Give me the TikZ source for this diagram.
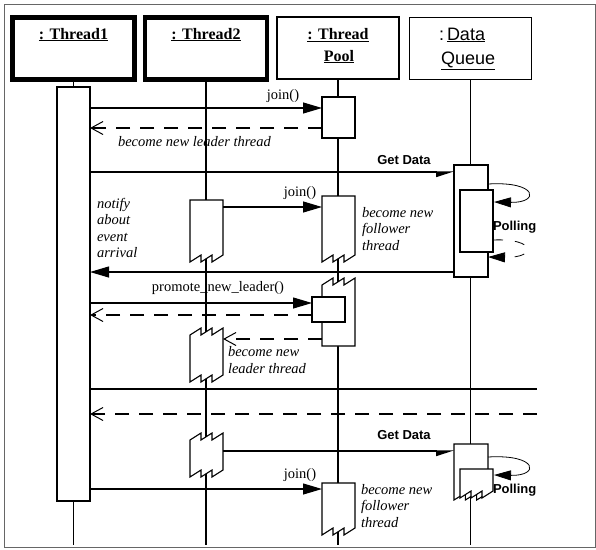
\documentclass[tikz,border=0pt]{standalone}
\usepackage{fontspec}
\setmainfont{Liberation Serif}
\setsansfont{Liberation Sans}
\usetikzlibrary{arrows.meta}
\begin{document}
\begin{tikzpicture}[x=1pt,y=-1pt,
  line width=1.1pt,
  every node/.style={inner sep=0pt, outer sep=0pt},
  hbox/.style={draw, minimum width=122pt, minimum height=62pt},
  hthick/.style={hbox, line width=4.5pt},
  life/.style={line width=1.1pt},
  act/.style={draw, fill=white, line width=1.1pt},
  call/.style={-{Triangle[length=19pt,width=11pt]}},
  half/.style={-{Triangle[length=16pt,width=10pt,harpoon,swap]}},
  reply/.style={dash pattern=on 14pt off 10pt, -{Straight Barb[length=12pt,width=13pt,line width=1pt]}},
  plain/.style={},
  lbl/.style={font=\fontsize{14.5}{16.5}\selectfont},
  ilbl/.style={font=\fontsize{14.5}{16.5}\selectfont\itshape, align=left, anchor=west},
  glbl/.style={font=\sffamily\bfseries\fontsize{13}{15}\selectfont},
  htxt/.style={font=\bfseries\fontsize{16}{22}\selectfont, anchor=base},
  dtxt/.style={font=\sffamily\fontsize{18}{26}\selectfont, anchor=base west},
]
\useasboundingbox (0,0) rectangle (596,549);
\draw[black!60, line width=1pt] (4.5,4.5) rectangle (595.5,547.5);

% header boxes
\node[hthick] (t1) at (73.5,48.5) {};
\node[hthick] (t2) at (206,48.5) {};
\node[hbox] (tp) at (338,48) {};
\node[hbox] (dq) at (470.5,48.5) {};
\node[htxt] (t1n) at (73.5,39) {\underline{: Thread1}};
\node[htxt] (t2n) at (206,39) {\underline{: Thread2}};
\node[htxt] (tpn) at (338,39.5) {\underline{: Thread}};
\node[htxt] (tpm) at (339,61) {\underline{Pool}};
\node[dtxt] (dqn) at (439,40) {:\,\underline{Data}};
\node[dtxt] (dqm) at (441,64) {\underline{Queue}};

% lifelines
\coordinate (t1end) at (73.5,545);
\coordinate (t2end) at (206,545);
\coordinate (tpend) at (338,545);
\coordinate (dqend) at (472,545);
\draw[life] (t1.south) -- (t1end);
\draw[life] (t2.south) -- (t2end);
\draw[life] (tp.south) -- (tpend);
\draw[life] (dq.south) -- (dq.south |- dqend);

% activations
\draw[act] (57,87) rectangle (90,501);
\draw[act] (322,97) rectangle (355,138);
\draw[act] (454,165) rectangle (488,277);
\draw[act] (460,190) rectangle (493,252);
\draw[act] (190,200) -- (223,200) -- (223,255) -- ++(-11,7) -- ++(0,-7) -- ++(-11,7) -- ++(0,-7) -- ++(-11,7) -- cycle;
\draw[act] (322,196) -- (355,196) -- (355,255) -- ++(-11,7) -- ++(0,-7) -- ++(-11,7) -- ++(0,-7) -- ++(-11,7) -- cycle;
\draw[act] (322,285) -- ++(11,-7) -- ++(0,7) -- ++(11,-7) -- ++(0,7) -- ++(11,-7) -- (355,346) -- (322,346) -- cycle;
\draw[act] (312,297) rectangle (345,322);
\draw[act] (190,335) -- ++(11,-7) -- ++(0,7) -- ++(11,-7) -- ++(0,7) -- ++(11,-7) -- (223,375) -- ++(-11,7) -- ++(0,-7) -- ++(-11,7) -- ++(0,-7) -- ++(-11,7) -- cycle;
\draw[act] (190,440) -- ++(11,-7) -- ++(0,7) -- ++(11,-7) -- ++(0,7) -- ++(11,-7) -- (223,470) -- ++(-11,7) -- ++(0,-7) -- ++(-11,7) -- ++(0,-7) -- ++(-11,7) -- cycle;
\draw[act] (454,444) -- (488,444) -- (488,493) -- ++(-11.33,7) -- ++(0,-7) -- ++(-11.33,7) -- ++(0,-7) -- ++(-11.34,7) -- cycle;
\draw[act] (460,469) -- (493,469) -- (493,491) -- ++(-11,7) -- ++(0,-7) -- ++(-11,7) -- ++(0,-7) -- ++(-11,7) -- cycle;
\draw[act] (322,483) -- (355,483) -- (355,528) -- ++(-11,7) -- ++(0,-7) -- ++(-11,7) -- ++(0,-7) -- ++(-11,7) -- cycle;

% message end points
\coordinate (j1s) at (90,108);   \coordinate (j1e) at (322,108);
\coordinate (r1s) at (322,128);  \coordinate (r1e) at (90,128);
\coordinate (g1s) at (90,172);   \coordinate (g1e) at (454,172);
\coordinate (j2s) at (223,207);  \coordinate (j2e) at (322,207);
\coordinate (n1s) at (454,272);  \coordinate (n1e) at (90,272);
\coordinate (p1s) at (90,303);   \coordinate (p1e) at (312,303);
\coordinate (r2s) at (312,315);  \coordinate (r2e) at (90,315);
\coordinate (r3s) at (322,339);  \coordinate (r3e) at (223,339);
\coordinate (s1s) at (90,389);   \coordinate (s1e) at (537,389);
\coordinate (r4s) at (537,414);  \coordinate (r4e) at (90,414);
\coordinate (g2s) at (223,451);  \coordinate (g2e) at (454,451);
\coordinate (j3s) at (90,489);   \coordinate (j3e) at (322,489);
\coordinate (q1s) at (488,184);  \coordinate (q1e) at (494,202);
\coordinate (q2s) at (493,240);  \coordinate (q2e) at (488,257);
\coordinate (q3s) at (488,457);  \coordinate (q3e) at (494,475);

% messages
\draw[call] (j1s) -- (j1e);
\draw[reply] (r1s) -- (r1e);
\draw[half] (g1s) -- (g1e);
\draw[call] (j2s) -- (j2e);
\draw[call] (n1s) -- (n1e);
\draw[call] (p1s) -- (p1e);
\draw[reply] (r2s) -- (r2e);
\draw[reply] (r3s) -- (r3e);
\draw[plain] (s1s) -- (s1e);
\draw[reply] (r4s) -- (r4e);
\draw[half] (g2s) -- (g2e);
\draw[call] (j3s) -- (j3e);
\draw[-{Triangle[length=17pt,width=10pt]}, line width=0.8pt] (q1s) .. controls (538,181) and (540,203) .. (q1e);
\draw[-{Triangle[length=17pt,width=10pt]}, line width=0.8pt, dash pattern=on 10pt off 12pt] (q2s) .. controls (536,238) and (538,258) .. (q2e);
\draw[-{Triangle[length=17pt,width=10pt]}, line width=0.8pt] (q3s) .. controls (538,454) and (540,476) .. (q3e);

% labels
\node[lbl] (l1) at (283,96) {join()};
\node[ilbl] (l2) at (118,142) {become new leader thread};
\node[glbl] (l3) at (404,160) {Get Data};
\node[lbl] (l4) at (300,193) {join()};
\node[ilbl] (l5) at (362,229) {become new\\follower\\thread};
\node[ilbl] (l6) at (97,228) {notify\\about\\event\\arrival};
\node[glbl, anchor=west] (l7) at (493,227) {Polling};
\node[lbl] (l8) at (218,288) {promote\_new\_leader()};
\node[ilbl] (l9) at (228,360) {become new\\leader thread};
\node[glbl] (l10) at (404,435) {Get Data};
\node[lbl] (l11) at (300,475) {join()};
\node[ilbl] (l12) at (361,506) {become new\\follower\\thread};
\node[glbl, anchor=west] (l13) at (493,490) {Polling};
\end{tikzpicture}
\end{document}
